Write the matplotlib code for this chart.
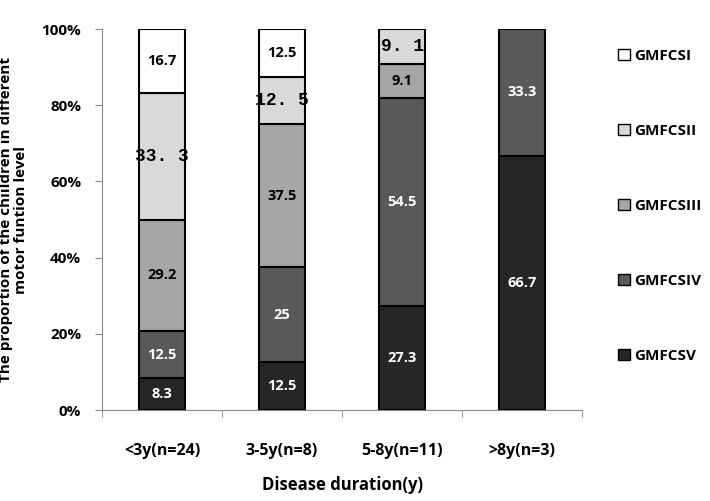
import matplotlib
matplotlib.use('Agg')
import matplotlib.pyplot as plt
import numpy as np
from matplotlib.patches import Patch

# disease duration groups
groups = ['<3y(n=24)', '3-5y(n=8)', '5-8y(n=11)', '>8y(n=3)']
levels = ['GMFCSV', 'GMFCSIV', 'GMFCSIII', 'GMFCSII', 'GMFCSI']

# percent of children per GMFCS level, bottom (V) to top (I)
gmfcs_v = [8.3, 12.5, 27.3, 66.7]
gmfcs_iv = [12.5, 25, 54.5, 33.3]
gmfcs_iii = [29.2, 37.5, 9.1, 0]
gmfcs_ii = [33.3, 12.5, 9.1, 0]
gmfcs_i = [16.7, 12.5, 0, 0]

# labels that were printed in a monospace font in the original
mono_labels = {(3, 0): '33. 3', (3, 1): '12. 5', (3, 2): '9. 1'}

colors = ['#262626', '#595959', '#a6a6a6', '#d9d9d9', '#ffffff']
text_colors = ['white', 'white', 'black', 'black', 'black']

plt.rcParams['font.family'] = ['Open Sans', 'DejaVu Sans']
plt.rcParams['font.weight'] = 'bold'

fig = plt.figure(figsize=(7.1, 5.01), dpi=100)
ax = fig.add_axes([0.1437, 0.1816, 0.676, 0.7604])

series = [gmfcs_v, gmfcs_iv, gmfcs_iii, gmfcs_ii, gmfcs_i]
x = np.arange(len(groups))
bottom = np.zeros(len(groups))
for i, vals in enumerate(series):
    vals = np.array(vals, dtype=float)
    for j in range(len(groups)):
        if vals[j] <= 0:
            continue
        ax.bar(x[j], vals[j], bottom=bottom[j], width=0.39, color=colors[i],
               edgecolor='black', linewidth=1.5, zorder=3)
        yc = bottom[j] + vals[j] / 2.0
        if (i, j) in mono_labels:
            ax.text(x[j], yc, mono_labels[(i, j)], ha='center', va='center',
                    fontsize=13, family='Liberation Mono', fontweight='bold',
                    color=text_colors[i], zorder=4)
        else:
            ax.text(x[j], yc, '%g' % vals[j], ha='center', va='center',
                    fontsize=10.5, color=text_colors[i], fontweight='bold', zorder=4)
    bottom += vals

ax.set_xlim(-0.5, len(groups) - 0.5)
ax.set_ylim(0, 100)
ax.set_yticks([0, 20, 40, 60, 80, 100])
ax.set_yticklabels(['0%', '20%', '40%', '60%', '80%', '100%'], fontsize=11, fontweight='bold')
ax.set_xticks(x)
ax.set_xticklabels(groups, fontsize=11.5, fontweight='bold')
ax.set_xticks(np.arange(len(groups) + 1) - 0.5, minor=True)
ax.tick_params(axis='x', which='major', length=0, pad=24)
ax.tick_params(axis='x', which='minor', length=5, color='#888888')
ax.tick_params(axis='y', length=5, color='#888888', pad=10)
for s in ['top', 'right']:
    ax.spines[s].set_visible(False)
for s in ['left', 'bottom']:
    ax.spines[s].set_color('#888888')

ax.set_xlabel('Disease duration(y)', fontsize=12, fontweight='bold', labelpad=12)
ax.set_ylabel('The proportion of the chiildren in different\nmotor funtion level',
              fontsize=11, fontweight='bold', labelpad=10, linespacing=1.05)

handles = [Patch(facecolor=colors[i], edgecolor='black', linewidth=1.0) for i in range(4, -1, -1)]
labels = [levels[i] for i in range(4, -1, -1)]
fig.legend(handles, labels, loc='upper left', bbox_to_anchor=(0.862, 0.915),
           frameon=False, labelspacing=4.0, handlelength=0.75,
           handleheight=0.75, handletextpad=0.3, borderaxespad=0,
           prop={'family': 'Open Sans', 'weight': 'bold', 'size': 11})

fig.savefig('out.png', dpi=100)
